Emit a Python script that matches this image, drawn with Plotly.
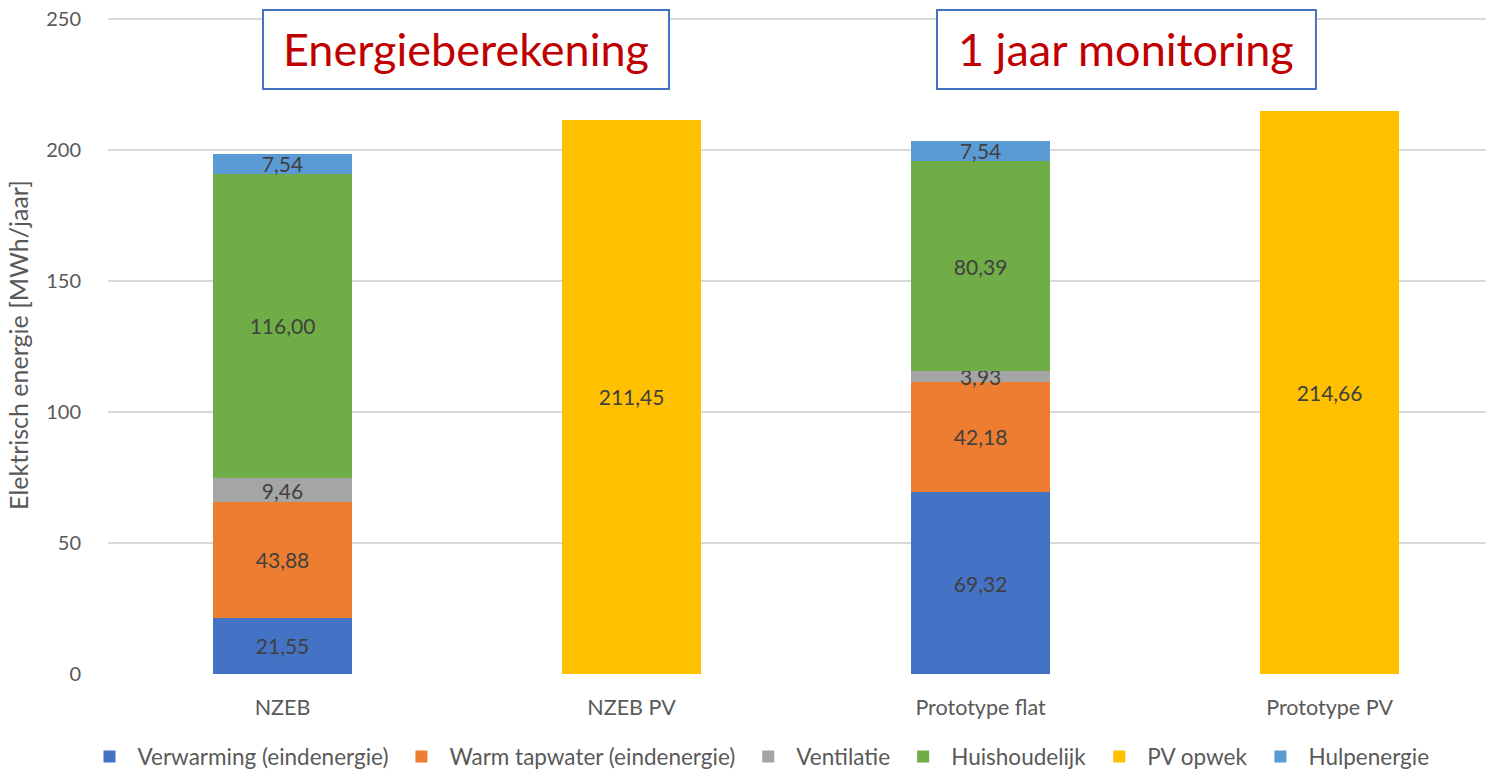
import plotly.graph_objects as go

categories = ["NZEB", "NZEB PV", "Prototype flat", "Prototype PV"]
verwarming = [21.55, None, 69.32, None]
warm_tapwater = [43.88, None, 42.18, None]
ventilatie = [9.46, None, 3.93, None]
huishoudelijk = [116.00, None, 80.39, None]
pv_opwek = [None, 211.45, None, 214.66]
hulpenergie = [7.54, None, 7.54, None]

series = [
    ("Verwarming (eindenergie)", verwarming, "#4472C4"),
    ("Warm tapwater (eindenergie)", warm_tapwater, "#ED7D31"),
    ("Ventilatie", ventilatie, "#A5A5A5"),
    ("Huishoudelijk", huishoudelijk, "#70AD47"),
    ("PV opwek", pv_opwek, "#FFC000"),
    ("Hulpenergie", hulpenergie, "#5B9BD5"),
]

FONT = "Lato"
fig = go.Figure()
for name, vals, col in series:
    fig.add_trace(go.Bar(
        name=name, x=list(range(len(categories))), y=vals,
        marker=dict(color=col, line=dict(width=0)),
        texttemplate="%{y:.2f}", textposition="inside",
        insidetextanchor="middle", textangle=0, constraintext="none",
        textfont=dict(family=FONT, size=21, color="#404040"),
        width=0.4,
    ))

fig.update_layout(
    barmode="stack",
    separators=",.",
    width=1486, height=770,
    margin=dict(l=108, r=0, t=16, b=96, autoexpand=False),
    plot_bgcolor="white", paper_bgcolor="white",
    font=dict(family=FONT, color="#595959"),
    uniformtext=dict(minsize=21, mode="show"),
    xaxis=dict(
        tickmode="array", tickvals=list(range(len(categories))), ticktext=categories,
        range=[-0.5, 3.448], showgrid=False, zeroline=False,
        showline=False, ticks="outside", ticklen=14, tickcolor="rgba(0,0,0,0)",
        tickfont=dict(family=FONT, size=21.5, color="#595959"),
    ),
    yaxis=dict(
        range=[0, 251], tickvals=[0, 50, 100, 150, 200, 250],
        showgrid=True, gridcolor="#D9D9D9", gridwidth=2,
        zeroline=False, showline=False,
        ticks="outside", ticklen=22, tickcolor="rgba(0,0,0,0)",
        tickfont=dict(family=FONT, size=20, color="#595959"),
        title=dict(text="Elektrisch energie [MWh/jaar]", standoff=10,
                   font=dict(family=FONT, size=25, color="#595959")),
    ),
    legend=dict(
        orientation="h", x=0.4717, xanchor="center",
        y=-0.1261, yanchor="middle", itemwidth=46,
        font=dict(family=FONT, size=22.5, color="#595959"),
        traceorder="normal",
    ),
    showlegend=True,
)

boxes = [
    (0.1125, 0.4071, "Energieberekening"),
    (0.6016, 0.8766, "1 jaar monitoring"),
]
for x0, x1, txt in boxes:
    fig.add_shape(type="rect", xref="paper", yref="paper",
                  x0=x0, x1=x1, y0=0.8891, y1=1.0091,
                  line=dict(color="#4472C4", width=2), fillcolor="white", layer="above")
    fig.add_annotation(xref="paper", yref="paper", x=(x0 + x1) / 2, y=0.9491,
                       text=txt, showarrow=False, xanchor="center", yanchor="middle",
                       font=dict(family=FONT, size=45, color="#C00000"))

fig.write_html("out.html", config={"displayModeBar": False},
               post_script="document.body.style.margin='0';")
